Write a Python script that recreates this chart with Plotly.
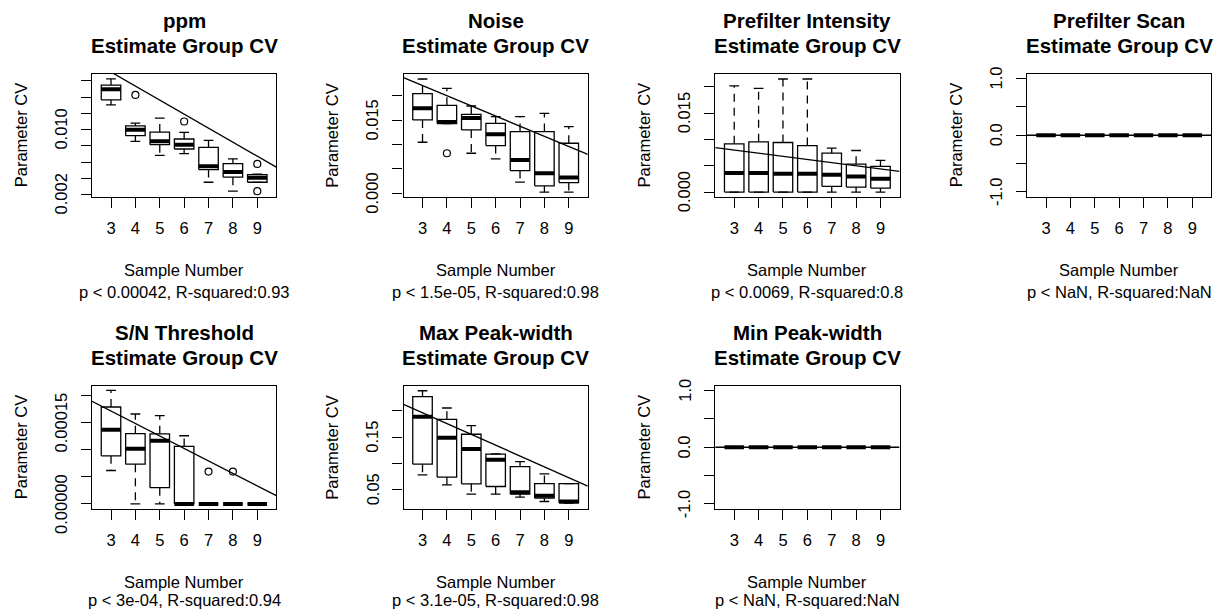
import plotly.graph_objects as go

# ---------------- data ----------------
SAMPLES = [3, 4, 5, 6, 7, 8, 9]
SAMPLE_LABELS = ["3", "4", "5", "6", "7", "8", "9"]

TITLES = ["ppm", "Noise", "Prefilter Intensity", "Prefilter Scan",
          "S/N Threshold", "Max Peak-width", "Min Peak-width"]
SUBTITLE = "Estimate Group CV"
X_TITLE = "Sample Number"
Y_TITLE = "Parameter CV"
FIT_TEXT = ["p < 0.00042, R-squared:0.93", "p < 1.5e-05, R-squared:0.98",
            "p < 0.0069, R-squared:0.8", "p < NaN, R-squared:NaN",
            "p < 3e-04, R-squared:0.94", "p < 3.1e-05, R-squared:0.98",
            "p < NaN, R-squared:NaN"]

# per sample number: [lower whisker, Q1, median, Q3, upper whisker]
PPM_STATS = [[0.01305, 0.01367, 0.01498, 0.01550, 0.01625],
             [0.00855, 0.00925, 0.00998, 0.01047, 0.01080],
             [0.00683, 0.00814, 0.00855, 0.00970, 0.01142],
             [0.00704, 0.00761, 0.00814, 0.00884, 0.00966],
             [0.00351, 0.00507, 0.00548, 0.00781, 0.00867],
             [0.00241, 0.00413, 0.00478, 0.00581, 0.00638],
             [0.00349, 0.00351, 0.00405, 0.00446, 0.00450]]
PPM_OUT_X = [4, 6, 9, 9]
PPM_OUT_Y = [0.01428, 0.01100, 0.00577, 0.00241]
PPM_FIT = [0.02229, -0.00173]          # intercept, slope
PPM_YTICKS = [0.002, 0.004, 0.006, 0.008, 0.010, 0.012, 0.014, 0.016]
PPM_YLABELS = ["0.002", "", "", "", "0.010", "", "", ""]

NOISE_STATS = [[0.01044, 0.01502, 0.01741, 0.02041, 0.02341],
               [0.01427, 0.01427, 0.01461, 0.01802, 0.02150],
               [0.00819, 0.01297, 0.01543, 0.01618, 0.01788],
               [0.00703, 0.00976, 0.01208, 0.01433, 0.01570],
               [0.00225, 0.00464, 0.00683, 0.01263, 0.01570],
               [0.00020, 0.00150, 0.00410, 0.01263, 0.01638],
               [0.00020, 0.00218, 0.00321, 0.01024, 0.01365]]
NOISE_OUT_X = [4]
NOISE_OUT_Y = [0.00819]
NOISE_FIT = [0.02833, -0.002085]
NOISE_YTICKS = [0.0, 0.005, 0.010, 0.015, 0.020]
NOISE_YLABELS = ["0.000", "", "", "0.015", ""]

PINT_STATS = [[0.0, 0.0, 0.00360, 0.00915, 0.02013],
              [0.0, 0.0, 0.00360, 0.00953, 0.01968],
              [0.0, 0.0, 0.00347, 0.00940, 0.02145],
              [0.0, 0.0, 0.00347, 0.00883, 0.02145],
              [0.0, 0.00107, 0.00328, 0.00738, 0.00833],
              [0.0, 0.00095, 0.00297, 0.00530, 0.00789],
              [0.0, 0.00076, 0.00252, 0.00486, 0.00600]]
PINT_OUT_X = []
PINT_OUT_Y = []
PINT_FIT = [0.00977, -0.000599]
PINT_YTICKS = [0.0, 0.005, 0.010, 0.015, 0.020]
PINT_YLABELS = ["0.000", "", "", "0.015", ""]

PSCAN_STATS = [[0.0, 0.0, 0.0, 0.0, 0.0] for _ in SAMPLES]
PSCAN_OUT_X = []
PSCAN_OUT_Y = []
PSCAN_FIT = [0.0, 0.0]
PSCAN_YTICKS = [-1.0, -0.5, 0.0, 0.5, 1.0]
PSCAN_YLABELS = ["-1.0", "", "0.0", "", "1.0"]

SN_STATS = [[0.0000615, 0.0000886, 0.0001365, 0.0001784, 0.0002090],
            [0.0, 0.0000732, 0.0001015, 0.0001292, 0.0001655],
            [0.0, 0.0000300, 0.0001162, 0.0001290, 0.0001624],
            [0.0, 0.0, 0.0, 0.0001058, 0.0001255],
            [0.0, 0.0, 0.0, 0.0, 0.0],
            [0.0, 0.0, 0.0, 0.0, 0.0],
            [0.0, 0.0, 0.0, 0.0, 0.0]]
SN_OUT_X = [7, 8]
SN_OUT_Y = [0.0000596, 0.0000596]
SN_FIT = [0.0002399, -0.00002298]
SN_YTICKS = [0.0, 0.00005, 0.00010, 0.00015, 0.00020]
SN_YLABELS = ["0.00000", "", "", "0.00015", ""]

MAXPW_STATS = [[0.0785, 0.0988, 0.1892, 0.2272, 0.2385],
               [0.0595, 0.0741, 0.1493, 0.1842, 0.2057],
               [0.0418, 0.0614, 0.1279, 0.1557, 0.1721],
               [0.0418, 0.0563, 0.1070, 0.1178, 0.1185],
               [0.0361, 0.0418, 0.0456, 0.0943, 0.1038],
               [0.0278, 0.0342, 0.0386, 0.0620, 0.0804],
               [0.0250, 0.0253, 0.0278, 0.0620, 0.0620]]
MAXPW_OUT_X = []
MAXPW_OUT_Y = []
MAXPW_FIT = [0.2581, -0.02054]
MAXPW_YTICKS = [0.05, 0.10, 0.15, 0.20]
MAXPW_YLABELS = ["0.05", "", "0.15", ""]

MINPW_STATS = [[0.0, 0.0, 0.0, 0.0, 0.0] for _ in SAMPLES]
MINPW_OUT_X = []
MINPW_OUT_Y = []
MINPW_FIT = [0.0, 0.0]
MINPW_YTICKS = [-1.0, -0.5, 0.0, 0.5, 1.0]
MINPW_YLABELS = ["-1.0", "", "0.0", "", "1.0"]

# ---------------- layout config ----------------
W, H = 1218, 611
COL_LEFT = [92, 403.5, 715.2, 1027]
ROW_TOP = [74, 386]
PW, PH = 184.3, 122.5
X_RANGE = [2.22, 9.78]
FONT = "Liberation Sans, Arial, Helvetica, sans-serif"

PANELS = [
    dict(stats=PPM_STATS, ox=PPM_OUT_X, oy=PPM_OUT_Y, fit=PPM_FIT,
         yt=PPM_YTICKS, yl=PPM_YLABELS, yr=[0.00175, 0.01686], row=0, col=0),
    dict(stats=NOISE_STATS, ox=NOISE_OUT_X, oy=NOISE_OUT_Y, fit=NOISE_FIT,
         yt=NOISE_YTICKS, yl=NOISE_YLABELS, yr=[-0.00068, 0.02444], row=0, col=1),
    dict(stats=PINT_STATS, ox=PINT_OUT_X, oy=PINT_OUT_Y, fit=PINT_FIT,
         yt=PINT_YTICKS, yl=PINT_YLABELS, yr=[-0.00084, 0.0224], row=0, col=2),
    dict(stats=PSCAN_STATS, ox=PSCAN_OUT_X, oy=PSCAN_OUT_Y, fit=PSCAN_FIT,
         yt=PSCAN_YTICKS, yl=PSCAN_YLABELS, yr=[-1.08, 1.08], row=0, col=3),
    dict(stats=SN_STATS, ox=SN_OUT_X, oy=SN_OUT_Y, fit=SN_FIT,
         yt=SN_YTICKS, yl=SN_YLABELS, yr=[-0.0000084, 0.000217], row=1, col=0),
    dict(stats=MAXPW_STATS, ox=MAXPW_OUT_X, oy=MAXPW_OUT_Y, fit=MAXPW_FIT,
         yt=MAXPW_YTICKS, yl=MAXPW_YLABELS, yr=[0.0145, 0.2475], row=1, col=1),
    dict(stats=MINPW_STATS, ox=MINPW_OUT_X, oy=MINPW_OUT_Y, fit=MINPW_FIT,
         yt=MINPW_YTICKS, yl=MINPW_YLABELS, yr=[-1.08, 1.08], row=1, col=2),
]

HALF_BOX = 0.4
HALF_STAPLE = 0.2
LW = 1.3

fig = go.Figure()
annotations = []
layout_axes = {}


def px_x(p):
    return p / W


def px_y(p):
    return 1 - p / H


title_font = dict(family=FONT, size=20.5, color="black")
text_font = dict(family=FONT, size=16.5, color="black")

for i, p in enumerate(PANELS):
    k = i + 1
    xa = "x" if k == 1 else f"x{k}"
    ya = "y" if k == 1 else f"y{k}"
    left = COL_LEFT[p["col"]]
    top = ROW_TOP[p["row"]]

    bx, by, wx, wy, sx, sy, mx, my = [], [], [], [], [], [], [], []
    for s, (lo, q1, med, q3, hi) in zip(SAMPLES, p["stats"]):
        bx += [s - HALF_BOX, s + HALF_BOX, s + HALF_BOX, s - HALF_BOX, s - HALF_BOX, None]
        by += [q1, q1, q3, q3, q1, None]
        wx += [s, s, None, s, s, None]
        wy += [q1, lo, None, q3, hi, None]
        sx += [s - HALF_STAPLE, s + HALF_STAPLE, None, s - HALF_STAPLE, s + HALF_STAPLE, None]
        sy += [lo, lo, None, hi, hi, None]
        mx += [s - HALF_BOX, s + HALF_BOX, None]
        my += [med, med, None]

    common = dict(xaxis=xa, yaxis=ya, showlegend=False, hoverinfo="skip")
    fig.add_trace(go.Scatter(x=wx, y=wy, mode="lines",
                             line=dict(color="black", width=LW, dash="8px,6px"), **common))
    fig.add_trace(go.Scatter(x=sx, y=sy, mode="lines",
                             line=dict(color="black", width=LW), **common))
    fig.add_trace(go.Scatter(x=bx, y=by, mode="lines",
                             line=dict(color="black", width=LW), **common))
    fig.add_trace(go.Scatter(x=mx, y=my, mode="lines",
                             line=dict(color="black", width=4), **common))
    if p["ox"]:
        fig.add_trace(go.Scatter(x=p["ox"], y=p["oy"], mode="markers",
                                 marker=dict(symbol="circle-open", size=7, color="black",
                                             line=dict(width=1.2, color="black")), **common))
    a, b = p["fit"]
    fx = list(X_RANGE)
    fy = [a + b * v for v in fx]
    fig.add_trace(go.Scatter(x=fx, y=fy, mode="lines",
                             line=dict(color="black", width=LW), **common))

    axis_common = dict(showline=True, mirror=True, linecolor="black", linewidth=1.2,
                       ticks="outside", ticklen=10, tickwidth=1.2, tickcolor="black",
                       showgrid=False, zeroline=False, automargin=False,
                       tickfont=dict(family=FONT, size=16.5, color="black"))
    layout_axes["xaxis" if k == 1 else f"xaxis{k}"] = dict(
        domain=[px_x(left), px_x(left + PW)], anchor=ya, range=X_RANGE,
        tickmode="array", tickvals=SAMPLES, ticktext=SAMPLE_LABELS,
        ticklabelstandoff=7, **axis_common)
    layout_axes["yaxis" if k == 1 else f"yaxis{k}"] = dict(
        domain=[px_y(top + PH), px_y(top)], anchor=xa, range=p["yr"],
        tickmode="array", tickvals=p["yt"], showticklabels=False, **axis_common)

    # y tick labels (rotated, R style)
    for v, lab in zip(p["yt"], p["yl"]):
        if lab:
            annotations.append(dict(text=lab, x=px_x(left - 31), y=v,
                                    xref="paper", yref=ya, xanchor="center", yanchor="middle",
                                    textangle=-90, showarrow=False, font=text_font))

    cx = left + PW / 2
    bottom = top + PH
    annotations.append(dict(text=f"<b>{TITLES[i]}</b>", x=px_x(cx), y=px_y(top - 54),
                            xref="paper", yref="paper", xanchor="center", yanchor="middle",
                            showarrow=False, font=title_font))
    annotations.append(dict(text=f"<b>{SUBTITLE}</b>", x=px_x(cx), y=px_y(top - 28.5),
                            xref="paper", yref="paper", xanchor="center", yanchor="middle",
                            showarrow=False, font=title_font))
    annotations.append(dict(text=X_TITLE, x=px_x(cx), y=px_y(bottom + 73),
                            xref="paper", yref="paper", xanchor="center", yanchor="middle",
                            showarrow=False, font=text_font))
    annotations.append(dict(text=FIT_TEXT[i], x=px_x(cx), y=px_y(min(bottom + 95, 599.5)),
                            xref="paper", yref="paper", xanchor="center", yanchor="middle",
                            showarrow=False, font=text_font))
    annotations.append(dict(text=Y_TITLE, x=px_x(left - 71), y=px_y(top + PH / 2),
                            xref="paper", yref="paper", xanchor="center", yanchor="middle",
                            textangle=-90, showarrow=False, font=text_font))

fig.update_layout(template="none", width=W, height=H, margin=dict(l=0, r=0, t=0, b=0),
                  paper_bgcolor="white", plot_bgcolor="white",
                  annotations=annotations, **layout_axes)

fig.write_html("out.html")
